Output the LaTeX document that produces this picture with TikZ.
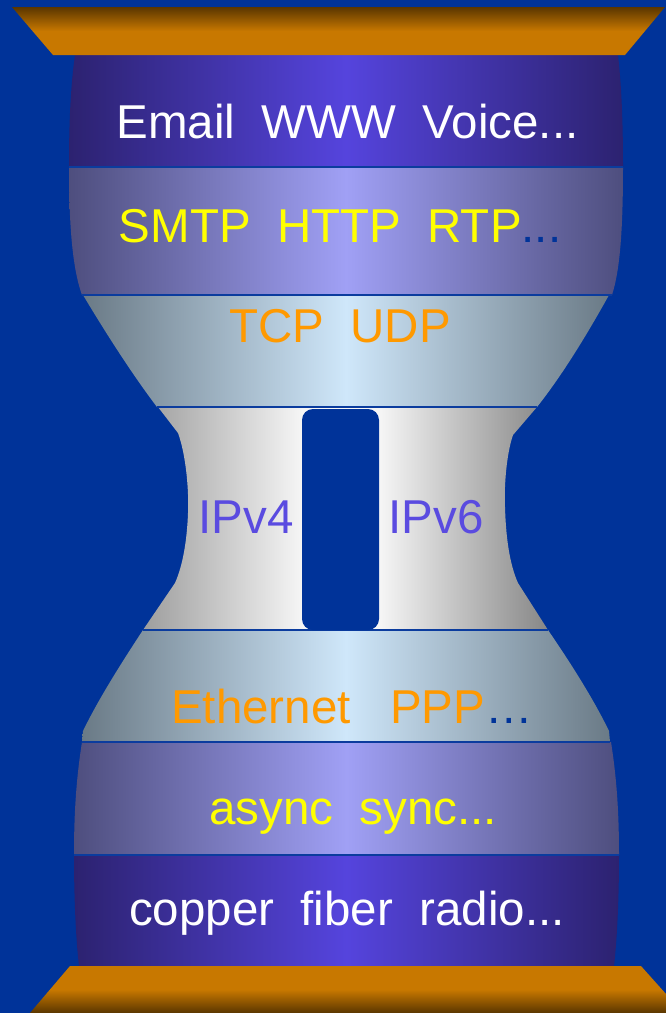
\documentclass[tikz,border=0pt]{standalone}
\usepackage{fontspec}
\setmainfont{Liberation Sans}
\definecolor{bg}{HTML}{003399}
\definecolor{sepblue}{HTML}{0B3C9E}
\definecolor{brownD}{HTML}{5A3600}
\definecolor{orangeC}{HTML}{C87800}
\definecolor{purEdge}{HTML}{2C2270}
\definecolor{purMid}{HTML}{5544DD}
\definecolor{lavEdge}{HTML}{4E4E7E}
\definecolor{lavMid}{HTML}{A0A0F5}
\definecolor{skyEdge}{HTML}{6A7A86}
\definecolor{skyMid}{HTML}{CFE7FA}
\definecolor{greyL}{HTML}{9C9C9C}
\definecolor{greyM}{HTML}{F6F6F6}
\definecolor{greyR}{HTML}{858585}
\definecolor{txtYellow}{HTML}{FFFF00}
\definecolor{txtOrange}{HTML}{FF9900}
\definecolor{txtPurple}{HTML}{5A4BE0}
\begin{document}
\begin{tikzpicture}[x=1pt,y=-1pt,
  sep/.style={draw=sepblue, line width=2.4pt},
  lbl/.style={anchor=base, inner sep=0pt, font=\fontsize{47.5}{56}\selectfont},
  purple layer/.style={left color=purEdge, right color=purEdge, middle color=purMid},
  lavender layer/.style={left color=lavEdge, right color=lavEdge, middle color=lavMid},
  sky layer/.style={left color=skyEdge, right color=skyEdge, middle color=skyMid}]

% canvas
\useasboundingbox (0,0) rectangle (666,1013);
\clip (0,0) rectangle (666,1013);
\fill[bg] (0,0) rectangle (666,1013);

% application layer
\shade[purple layer] (75,55) -- (618,55) .. controls (622,90) and (623,130) .. (623,167)
  -- (69,167) .. controls (69,130) and (70,90) .. (75,55) -- cycle;
% application protocols
\shade[lavender layer] (69,167) -- (623,167) .. controls (623,230) and (620,270) .. (612,295)
  -- (82,295) .. controls (73,270) and (69,230) .. (69,167) -- cycle;
% transport
\shade[sky layer] (83,295) .. controls (110,340) and (135,378) .. (157,407)
  -- (537,407) .. controls (560,378) and (584,340) .. (609,295) -- cycle;
% network waist: grey on both sides, brightening towards the slot
\begin{scope}
  \clip (158,407) -- (537,407) -- (513,435)
    .. controls (506,455) and (504,490) .. (505,507)
    .. controls (506,540) and (510,565) .. (518,583) -- (548,630)
    -- (143,630) -- (175,583)
    .. controls (183,565) and (187,540) .. (188,513)
    .. controls (189,490) and (186,455) .. (178,433) -- cycle;
  \shade[left color=greyL, right color=greyM] (140,405) rectangle (303,632);
  \fill[greyM] (302,405) rectangle (380,632);
  \shade[left color=greyM, right color=greyR] (379,405) rectangle (550,632);
\end{scope}
% link
\shade[sky layer] (143,630) .. controls (120,665) and (98,700) .. (83,731) -- (82,742)
  -- (610,742) -- (609,731) .. controls (594,700) and (572,665) .. (548,630) -- cycle;
% physical framing
\shade[lavender layer] (82,742) -- (611,742) .. controls (617,780) and (619,815) .. (619,855)
  -- (74,855) .. controls (74,815) and (76,780) .. (82,742) -- cycle;
% media
\shade[purple layer] (74,855) -- (619,855) .. controls (619,900) and (617,940) .. (614,966)
  -- (79,966) .. controls (76,940) and (74,900) .. (74,855) -- cycle;

% caps
\shade[top color=brownD, bottom color=orangeC, middle color=orangeC]
  (12,7) -- (665,7) -- (625,55) -- (53,55) -- cycle;
\shade[top color=orangeC, bottom color=brownD, middle color=orangeC]
  (70,966) -- (641,966) -- (683,1013) -- (30,1013) -- cycle;

% separators
\draw[sep] (69,167) -- (623,167);
\draw[sep] (82,295) -- (612,295);
\draw[sep] (157,407) -- (537,407);
\draw[sep] (143,630) -- (548,630);
\draw[sep] (82,742) -- (610,742);
\draw[sep] (74,855) -- (619,855);

% slot between IPv4 and IPv6
\fill[bg, rounded corners=11pt] (302,409) rectangle (379,630);

% labels
\node[lbl, text=white] (app) at (347.5,138) {Email~~WWW~~Voice...};
\node[lbl, text=txtYellow] (proto) at (340,242) {SMTP~~HTTP~~RTP{\color{bg}...}};
\node[lbl, text=txtOrange] (trans) at (340,342) {TCP~~UDP};
\node[lbl, text=txtPurple] (ipfour) at (246,533) {IPv4};
\node[lbl, text=txtPurple] (ipsix) at (436,533) {IPv6};
\node[lbl, text=txtOrange] (link) at (352,723) {Ethernet~~~PPP{\color{bg}…}};
\node[lbl, text=txtYellow] (framing) at (353,824) {async~~sync...};
\node[lbl, text=white] (media) at (347,925) {copper~~fiber~~radio...};
\end{tikzpicture}
\end{document}
